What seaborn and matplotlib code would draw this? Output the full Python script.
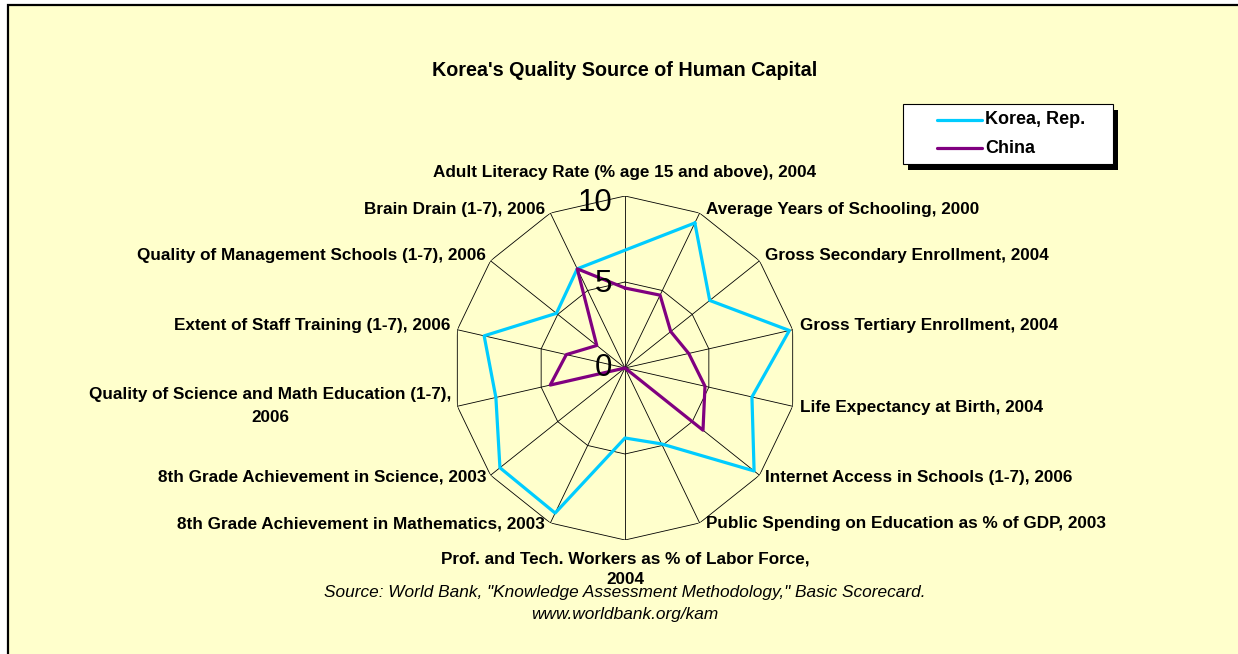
import numpy as np
import pandas as pd
import matplotlib
matplotlib.use("Agg")
import matplotlib.pyplot as plt
from matplotlib.patches import Rectangle
from matplotlib.lines import Line2D
import seaborn as sns

# Knowledge Assessment Methodology scorecard (normalised 0-10)
categories = [
    "Adult Literacy Rate (% age 15 and above), 2004",
    "Average Years of Schooling, 2000",
    "Gross Secondary Enrollment, 2004",
    "Gross Tertiary Enrollment, 2004",
    "Life Expectancy at Birth, 2004",
    "Internet Access in Schools (1-7), 2006",
    "Public Spending on Education as % of GDP, 2003",
    "Prof. and Tech. Workers as % of Labor Force,\n2004",
    "8th Grade Achievement in Mathematics, 2003",
    "8th Grade Achievement in Science, 2003",
    "Quality of Science and Math Education (1-7),\n2006",
    "Extent of Staff Training (1-7), 2006",
    "Quality of Management Schools (1-7), 2006",
    "Brain Drain (1-7), 2006",
]
korea = [np.nan, 9.36, 6.3, 9.8, 7.57, 9.6, 4.9, 4.07, 9.36, 9.3, 7.7, 8.4, 5.1, 6.4]
china = [4.65, 4.7, 3.4, 3.8, 4.77, 5.8, 0.0, 0.0, 0.0, 0.0, 4.46, 3.5, 2.1, 6.4]
series_names = ["Korea, Rep.", "China"]
series_colors = ["#00CCFF", "#800080"]
ring_levels = [0, 5, 10]

W, H = 1238, 654
BG = "#FFFFCC"

sns.set_style("white")
plt.rcParams["font.family"] = ["Liberation Sans", "DejaVu Sans"]
plt.rcParams["text.color"] = "black"

fig = plt.figure(figsize=(W / 100, H / 100), dpi=100, facecolor="white")


def fx(x):
    return x / W


def fy(y):
    return 1 - y / H


# chart area background with its frame
fig.patches.append(Rectangle((fx(8), fy(H + 20)), fx(W + 20) - fx(8), fy(5) - fy(H + 20),
                             transform=fig.transFigure, facecolor=BG, edgecolor="black",
                             linewidth=1.6, zorder=-5))

# polar axes centred at (625, 368) px, radius 172 px
cx, cy, R = 625, 368, 172
ax = fig.add_axes([fx(cx - R), fy(cy + R), 2 * R / W, 2 * R / H], projection="polar")
ax.set_zorder(1)
ax.set_theta_zero_location("N")
ax.set_theta_direction(-1)
ax.set_ylim(0, 10)
ax.grid(False)
ax.set_xticks([])
ax.set_yticks([])
ax.spines["polar"].set_visible(False)
ax.patch.set_alpha(0)

n = len(categories)
theta = np.arange(n) * 2 * np.pi / n

# spokes and polygon rings
for t in theta:
    ax.plot([t, t], [0, ring_levels[-1]], color="black", lw=0.6, zorder=1)
for lvl in ring_levels[1:]:
    ax.plot(np.append(theta, theta[0]), np.full(n + 1, lvl), color="black", lw=0.6, zorder=1)

# series lines
rows = []
for name, vals in zip(series_names, [korea, china]):
    df = pd.DataFrame({"theta": theta, "score": vals}).dropna()
    df = pd.concat([df, df.iloc[[0]].assign(theta=df.iloc[0]["theta"] + 2 * np.pi)])
    df["country"] = name
    rows.append(df)
long = pd.concat(rows, ignore_index=True)
sns.lineplot(data=long, x="theta", y="score", hue="country", units="country",
             estimator=None, sort=False, palette=dict(zip(series_names, series_colors)),
             linewidth=2.3, legend=False, ax=ax, zorder=3)
ax.set_xlabel("")
ax.set_ylabel("")
ax.set_ylim(0, 10)

# category labels around the outer ring: (dx, dy, align, line spacing)
label_offsets = [(0, 24, "center", 1.3), (6, 4, "left", 1.3), (5.5, 5, "left", 1.3),
                 (7, 4, "left", 1.3), (7, -1, "left", 1.3), (5.5, -2, "left", 1.3),
                 (6, -1, "left", 1.3), (0, -29.5, "center", 1.45),
                 (-5.5, -1, "right", 1.3), (-4.5, -2, "right", 1.3), (-6, 0, "right", 1.65),
                 (-7, 4, "right", 1.3), (-4.5, 5, "right", 1.3), (-5.5, 4, "right", 1.3)]
for t, lab, (dx, dy, ha, ls) in zip(theta, categories, label_offsets):
    ax.annotate(lab, xy=(t, 10), xytext=(dx, dy), textcoords="offset pixels",
                ha=ha, va="center", multialignment="center", fontsize=12.3,
                fontweight="bold", linespacing=ls, annotation_clip=False)

# radial scale values
for lvl, dy in zip(ring_levels, [0, -2.5, -7]):
    ax.annotate(str(lvl), xy=(0, lvl), xytext=(-13, dy), textcoords="offset pixels",
                ha="right", va="center", fontsize=22.5, annotation_clip=False)

# title
fig.text(fx(625), fy(70), "Korea's Quality Source of Human Capital", ha="center",
         va="center", fontsize=14.2, fontweight="bold")

# legend box with drop shadow
lx0, ly0, lx1, ly1 = 903, 104, 1113, 164
fig.patches.append(Rectangle((fx(lx0 + 5), fy(ly1 + 6)), fx(lx1) - fx(lx0), fy(ly0) - fy(ly1),
                             transform=fig.transFigure, facecolor="black", edgecolor="black",
                             lw=0, zorder=5))
fig.patches.append(Rectangle((fx(lx0), fy(ly1)), fx(lx1) - fx(lx0), fy(ly0) - fy(ly1),
                             transform=fig.transFigure, facecolor="white", edgecolor="black",
                             lw=0.8, zorder=6))
for name, col, yy in zip(series_names, series_colors, [120, 148]):
    fig.lines.append(Line2D([fx(937), fx(982)], [fy(yy), fy(yy)], transform=fig.transFigure,
                            color=col, lw=2.3, zorder=7))
    fig.text(fx(985), fy(yy), name, ha="left", va="center", fontsize=13,
             fontweight="bold", zorder=8)

# source note
fig.text(fx(625), fy(593), 'Source: World Bank, "Knowledge Assessment Methodology," Basic Scorecard.',
         ha="center", va="center", fontsize=12.4, style="italic")
fig.text(fx(625), fy(614), "www.worldbank.org/kam", ha="center", va="center",
         fontsize=12.4, style="italic")

fig.savefig("out.png", dpi=100, facecolor="white")
